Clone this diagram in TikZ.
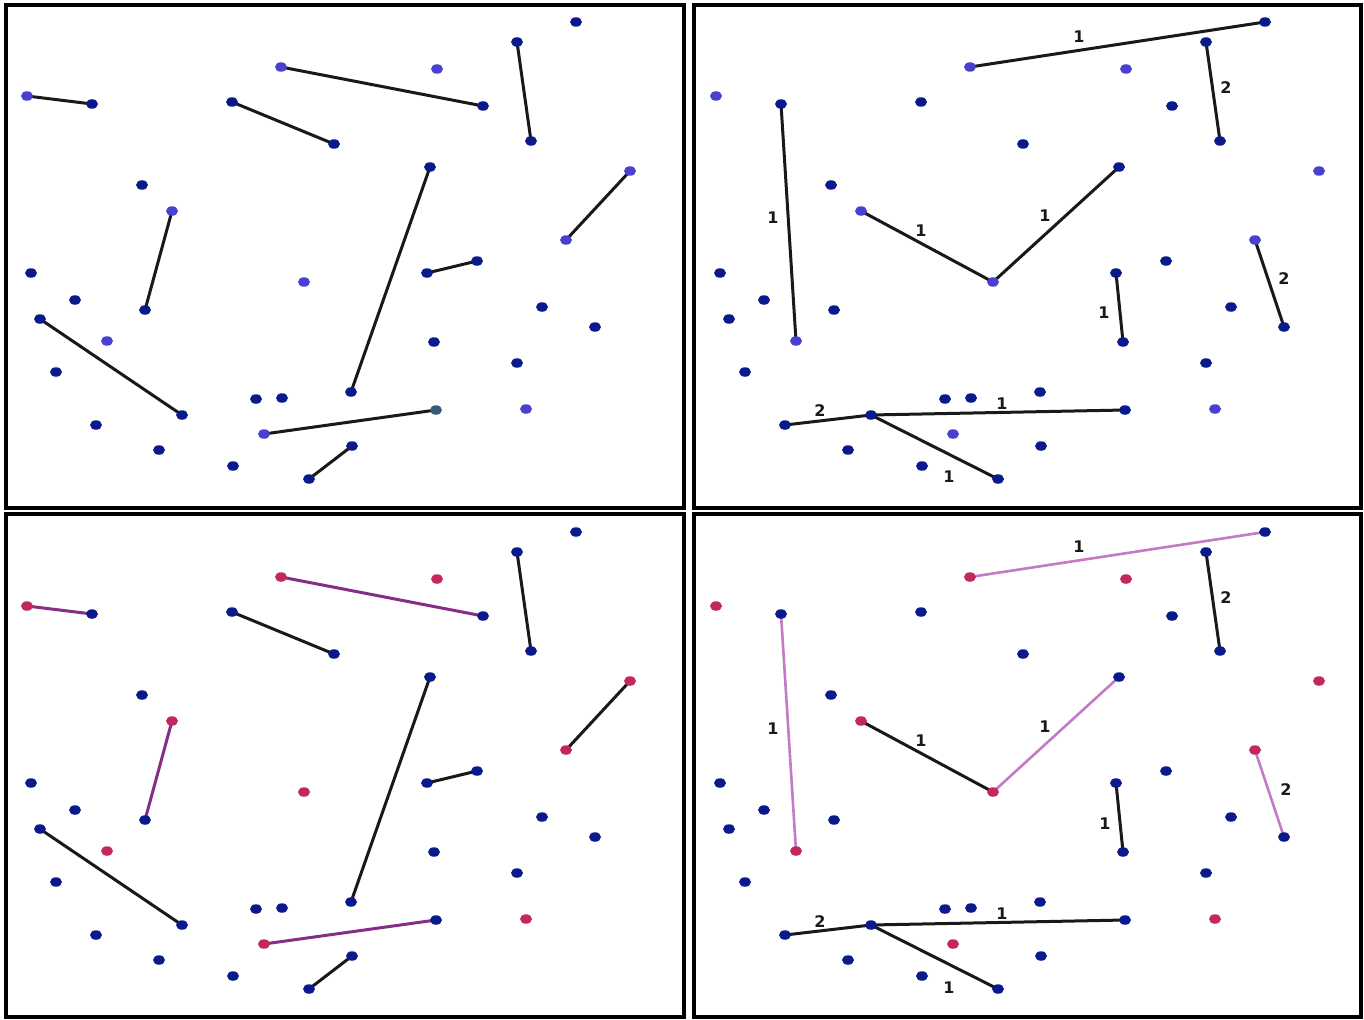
\documentclass[tikz,border=0pt]{standalone}
\usepackage{fontspec}
\setmainfont{DejaVu Sans}
\usetikzlibrary{shapes.geometric,backgrounds}
\definecolor{dotdark}{HTML}{0A1A8C}
\definecolor{dotlight}{HTML}{4A40D0}
\definecolor{dotteal}{HTML}{3A5878}
\definecolor{dotred}{HTML}{C2285E}
\definecolor{purpdark}{HTML}{862E86}
\definecolor{purplight}{HTML}{C27BC4}
\tikzset{
  pt/.style={ellipse, inner sep=0pt, minimum width=12pt, minimum height=9.5pt, draw=none},
  ptD/.style={pt, fill=dotdark},
  ptL/.style={pt, fill=dotlight},
  ptT/.style={pt, fill=dotteal},
  ptR/.style={pt, fill=dotred},
  blk/.style={draw=black!90, line width=3pt},
  pbl/.style={draw=purpdark, line width=3pt},
  pbr/.style={draw=purplight, line width=2.6pt},
  panelbox/.style={draw=black, line width=3.2pt},
  lbl/.style={font=\fontsize{16}{16}\selectfont\bfseries, text=black!90, inner sep=0pt}
}
\newcommand\drawpts[5]{%
  \foreach \n/\x/\y in {2/92/104,4/232/102,5/334/144,6/142/185,8/483/106,10/517/42,11/531/141,12/576/22,13/430/167,16/31/273,17/75/300,18/145/310,19/40/319,21/56/372,22/182/415,23/96/425,24/159/450,25/233/466,26/256/399,27/282/398,29/309/479,31/427/273,32/477/261,33/542/307,34/595/327,35/434/342,36/517/363,37/351/392,40/352/446}
    \node[ptD] (#1\n) at (\x+#2,\y+#3) {};
  \foreach \n/\x/\y in {1/27/96,3/281/67,7/172/211,9/437/69,14/630/171,15/566/240,20/107/341,28/264/434,30/304/282,39/526/409}
    \node[#4] (#1\n) at (\x+#2,\y+#3) {};
  \node[#5] (#138) at (436+#2,410+#3) {};
}
\begin{document}
\begin{tikzpicture}[x=1pt,y=-1pt]
\useasboundingbox (0,0) rectangle (1364,1019);
% panel frames
\draw[panelbox] (6,5) rectangle (684,508);
\draw[panelbox] (694,5) rectangle (1361,508);
\draw[panelbox] (6,514) rectangle (684,1017);
\draw[panelbox] (694,514) rectangle (1361,1017);
% points
\drawpts{a}{0}{0}{ptL}{ptT}
\drawpts{b}{689}{0}{ptL}{ptD}
\drawpts{c}{0}{510}{ptR}{ptD}
\drawpts{d}{689}{510}{ptR}{ptD}
\begin{scope}[on background layer]
\fill[white] (0,0) rectangle (1364,1019);
% top-left connectors
\draw[blk] (a1.center) -- (a2.center);
\draw[blk] (a3.center) -- (a8.center);
\draw[blk] (a4.center) -- (a5.center);
\draw[blk] (a10.center) -- (a11.center);
\draw[blk] (a7.center) -- (a18.center);
\draw[blk] (a13.center) -- (a37.center);
\draw[blk] (a14.center) -- (a15.center);
\draw[blk] (a31.center) -- (a32.center);
\draw[blk] (a19.center) -- (a22.center);
\draw[blk] (a28.center) -- (a38.center);
\draw[blk] (a29.center) -- (a40.center);
% bottom-left connectors
\draw[pbl] (c1.center) -- (c2.center);
\draw[pbl] (c3.center) -- (c8.center);
\draw[blk] (c4.center) -- (c5.center);
\draw[blk] (c10.center) -- (c11.center);
\draw[pbl] (c7.center) -- (c18.center);
\draw[blk] (c13.center) -- (c37.center);
\draw[blk] (c14.center) -- (c15.center);
\draw[blk] (c31.center) -- (c32.center);
\draw[blk] (c19.center) -- (c22.center);
\draw[pbl] (c28.center) -- (c38.center);
\draw[blk] (c29.center) -- (c40.center);
% top-right connectors
\draw[blk] (b3.center) -- (b12.center);
\draw[blk] (b10.center) -- (b11.center);
\draw[blk] (b2.center) -- (b20.center);
\draw[blk] (b7.center) -- (b30.center);
\draw[blk] (b30.center) -- (b13.center);
\draw[blk] (b15.center) -- (b34.center);
\draw[blk] (b31.center) -- (b35.center);
\draw[blk] (b23.center) -- (b22.center);
\draw[blk] (b22.center) -- (b38.center);
\draw[blk] (b22.center) -- (b29.center);
% bottom-right connectors
\draw[pbr] (d3.center) -- (d12.center);
\draw[blk] (d10.center) -- (d11.center);
\draw[pbr] (d2.center) -- (d20.center);
\draw[blk] (d7.center) -- (d30.center);
\draw[pbr] (d30.center) -- (d13.center);
\draw[pbr] (d15.center) -- (d34.center);
\draw[blk] (d31.center) -- (d35.center);
\draw[blk] (d23.center) -- (d22.center);
\draw[blk] (d22.center) -- (d38.center);
\draw[blk] (d22.center) -- (d29.center);
\end{scope}
% weights, top-right
\node[lbl] (b-w1) at (1079,37) {1};
\node[lbl] (b-w2) at (1226,88) {2};
\node[lbl] (b-w3) at (773,218) {1};
\node[lbl] (b-w4) at (921,231) {1};
\node[lbl] (b-w5) at (1045,216) {1};
\node[lbl] (b-w6) at (1104,313) {1};
\node[lbl] (b-w7) at (1284,279) {2};
\node[lbl] (b-w8) at (820,411) {2};
\node[lbl] (b-w9) at (1002,404) {1};
\node[lbl] (b-w10) at (949,477) {1};
% weights, bottom-right
\node[lbl] (d-w1) at (1079,547) {1};
\node[lbl] (d-w2) at (1226,598) {2};
\node[lbl] (d-w3) at (773,729) {1};
\node[lbl] (d-w4) at (921,741) {1};
\node[lbl] (d-w5) at (1045,727) {1};
\node[lbl] (d-w6) at (1105,824) {1};
\node[lbl] (d-w7) at (1286,790) {2};
\node[lbl] (d-w8) at (820,922) {2};
\node[lbl] (d-w9) at (1002,914) {1};
\node[lbl] (d-w10) at (949,988) {1};
\end{tikzpicture}
\end{document}
